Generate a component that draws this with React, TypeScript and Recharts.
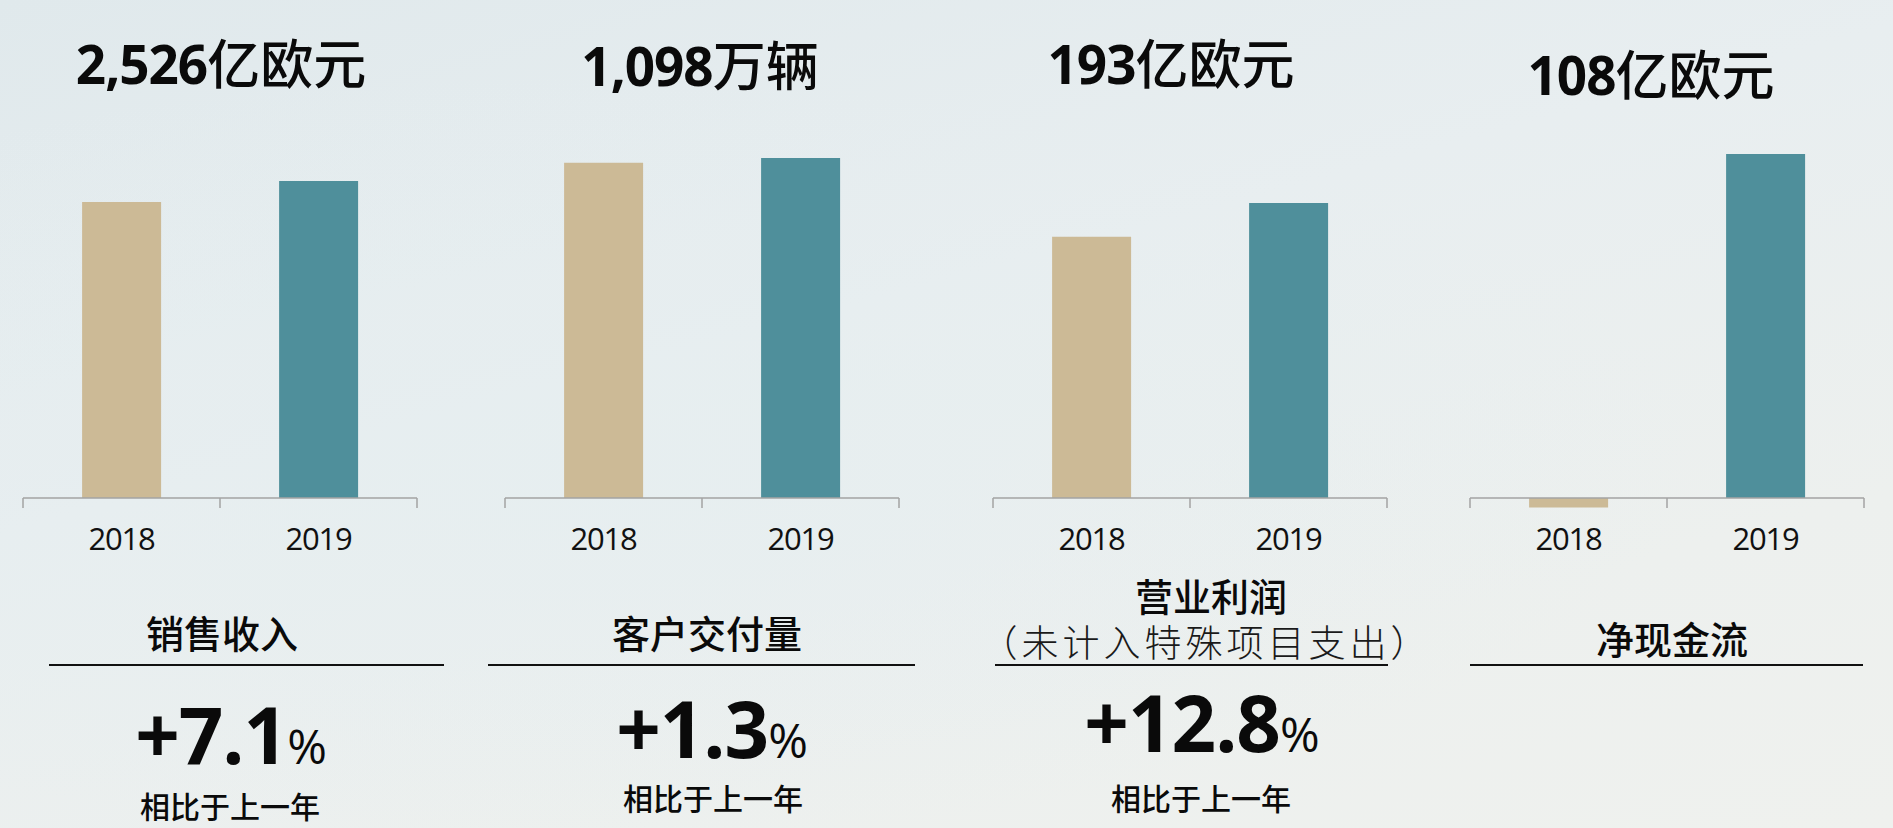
import React from 'react';
import { BarChart, Bar, XAxis, YAxis, Cell, ReferenceLine } from 'recharts';

// ---- data ----
const CATEGORIES = ['2018', '2019'];
const REVENUE = [2358, 2526];
const DELIVERIES = [1083, 1098];
const OP_PROFIT = [171, 193];
const NET_CASH = [-3, 108];

const HEADLINE_NUMBERS = ['2,526', '1,098', '193', '108'];
const HEADLINE_UNITS = ['亿欧元', '万辆', '亿欧元', '亿欧元'];
const KPI_NAMES = ['销售收入', '客户交付量', '营业利润', '净现金流'];
const KPI_NOTE = '（未计入特殊项目支出）';
const GROWTH = ['+7.1', '+1.3', '+12.8', ''];
const COMPARE_LABEL = '相比于上一年';
const Y_MAX = [3012, 1221, 247.4, 118.7];

const BAR_COLORS = ['#CCBA96', '#4F8F9B'];

const SERIES = [REVENUE, DELIVERIES, OP_PROFIT, NET_CASH];

// ---- layout ----
const AXIS_LEFT = [23, 505, 993, 1470];
const AXIS_LEN = 394;
const PAD = 4;
const CHART_H = 560;
const PLOT_TOP = 120;
const PLOT_BOTTOM = 510;
const ZERO_Y = 498;

const CJK = '"Noto Sans CJK SC", "Noto Sans", sans-serif';
const LATIN = '"Open Sans", "Noto Sans", sans-serif';

const AxisShape = (p: any) => {
  const { x1, x2, y1 } = p;
  const mid = (x1 + x2) / 2;
  return (
    <g>
      <line x1={x1} x2={x2} y1={y1} y2={y1} stroke="#a3a3a3" strokeWidth={1.5} />
      {[x1, mid, x2].map((x: number, i: number) => (
        <line key={i} x1={x} x2={x} y1={y1} y2={y1 + 10} stroke="#a3a3a3" strokeWidth={1.5} />
      ))}
    </g>
  );
};

const Tick = (p: any) => {
  const { x, y, payload } = p;
  return (
    <text
      x={x}
      y={y + 28}
      textAnchor="middle"
      dominantBaseline="central"
      fontFamily={LATIN}
      fontSize={31}
      letterSpacing={-1.2}
      fill="#111"
    >
      {payload.value}
    </text>
  );
};

const Panel = ({ idx }: { idx: number }) => {
  const data = CATEGORIES.map((c, i) => ({ year: c, value: SERIES[idx][i] }));
  const hi = Y_MAX[idx];
  const lo = -hi * (PLOT_BOTTOM - ZERO_Y) / (ZERO_Y - PLOT_TOP);
  return (
    <div style={{ position: 'absolute', left: AXIS_LEFT[idx] - PAD, top: 0 }}>
      <BarChart
        width={AXIS_LEN + PAD * 2}
        height={CHART_H}
        data={data}
        margin={{ top: PLOT_TOP, right: PAD, left: PAD, bottom: 0 }}
        barCategoryGap="30%"
      >
        <XAxis
          dataKey="year"
          height={CHART_H - PLOT_BOTTOM}
          axisLine={false}
          tickLine={false}
          tickSize={0}
          tickMargin={0}
          tick={<Tick />}
          interval={0}
        />
        <YAxis hide domain={[lo, hi]} allowDataOverflow />
        <Bar dataKey="value" isAnimationActive={false}>
          {data.map((_, i) => (
            <Cell key={i} fill={BAR_COLORS[i]} />
          ))}
        </Bar>
        <ReferenceLine y={0} shape={AxisShape} />
      </BarChart>
    </div>
  );
};

const Centered = ({ x, y, children, style }: any) => (
  <div
    style={{
      position: 'absolute',
      left: x,
      top: y,
      transform: 'translate(-50%, -50%)',
      whiteSpace: 'nowrap',
      lineHeight: 1,
      color: '#0a0a0a',
      ...style,
    }}
  >
    {children}
  </div>
);

const TITLE_POS = [
  [221, 62],
  [700, 64],
  [1171, 62],
  [1651, 73],
];
const NAME_POS = [
  [222, 632],
  [707, 632],
  [1211, 595],
  [1672, 638],
];
const GROWTH_POS = [
  [231, 734],
  [712, 728],
  [1202, 722],
];
const COMPARE_POS = [
  [230, 805],
  [713, 797],
  [1201, 797],
];
const RULES = [
  [49, 444],
  [488, 915],
  [995, 1388],
  [1470, 1863],
];

export default function App() {
  return (
    <div
      style={{
        position: 'absolute',
        left: 0,
        top: 0,
        width: 1893,
        height: 828,
        overflow: 'hidden',
        background:
          'radial-gradient(ellipse at 30% 55%, rgba(230,238,240,0.9) 0%, rgba(230,238,240,0) 60%), linear-gradient(165deg, #e0e9ec 0%, #e8eef0 40%, #edf0ee 75%, #eff1ee 100%)',
        fontFamily: CJK,
      }}
    >
      {[0, 1, 2, 3].map((i) => (
        <Panel key={i} idx={i} />
      ))}

      {TITLE_POS.map(([x, y], i) => (
        <Centered key={'t' + i} x={x} y={y}>
          <span style={{ fontFamily: LATIN, fontWeight: 700, fontSize: 53, letterSpacing: -1 }}>
            {HEADLINE_NUMBERS[i]}
          </span>
          <span style={{ fontFamily: CJK, fontWeight: 500, fontSize: 53 }}>{HEADLINE_UNITS[i]}</span>
        </Centered>
      ))}

      {NAME_POS.map(([x, y], i) => (
        <Centered key={'n' + i} x={x} y={y} style={{ fontSize: 38, fontWeight: 500 }}>
          {KPI_NAMES[i]}
        </Centered>
      ))}
      <Centered
        x={1206}
        y={641}
        style={{ fontSize: 37, fontWeight: 300, color: '#1a1a1a', letterSpacing: 4 }}
      >
        {KPI_NOTE}
      </Centered>

      {RULES.map(([a, b], i) => (
        <div
          key={'r' + i}
          style={{ position: 'absolute', left: a, top: 664, width: b - a, height: 2, background: '#111' }}
        />
      ))}

      {GROWTH_POS.map(([x, y], i) => (
        <Centered key={'g' + i} x={x} y={y}>
          <span style={{ fontFamily: LATIN, fontWeight: 700, fontSize: 78, letterSpacing: -1 }}>{GROWTH[i]}</span>
          <span style={{ fontFamily: LATIN, fontWeight: 400, fontSize: 48 }}>%</span>
        </Centered>
      ))}

      {COMPARE_POS.map(([x, y], i) => (
        <Centered key={'c' + i} x={x} y={y} style={{ fontSize: 30, fontWeight: 500 }}>
          {COMPARE_LABEL}
        </Centered>
      ))}
    </div>
  );
}
